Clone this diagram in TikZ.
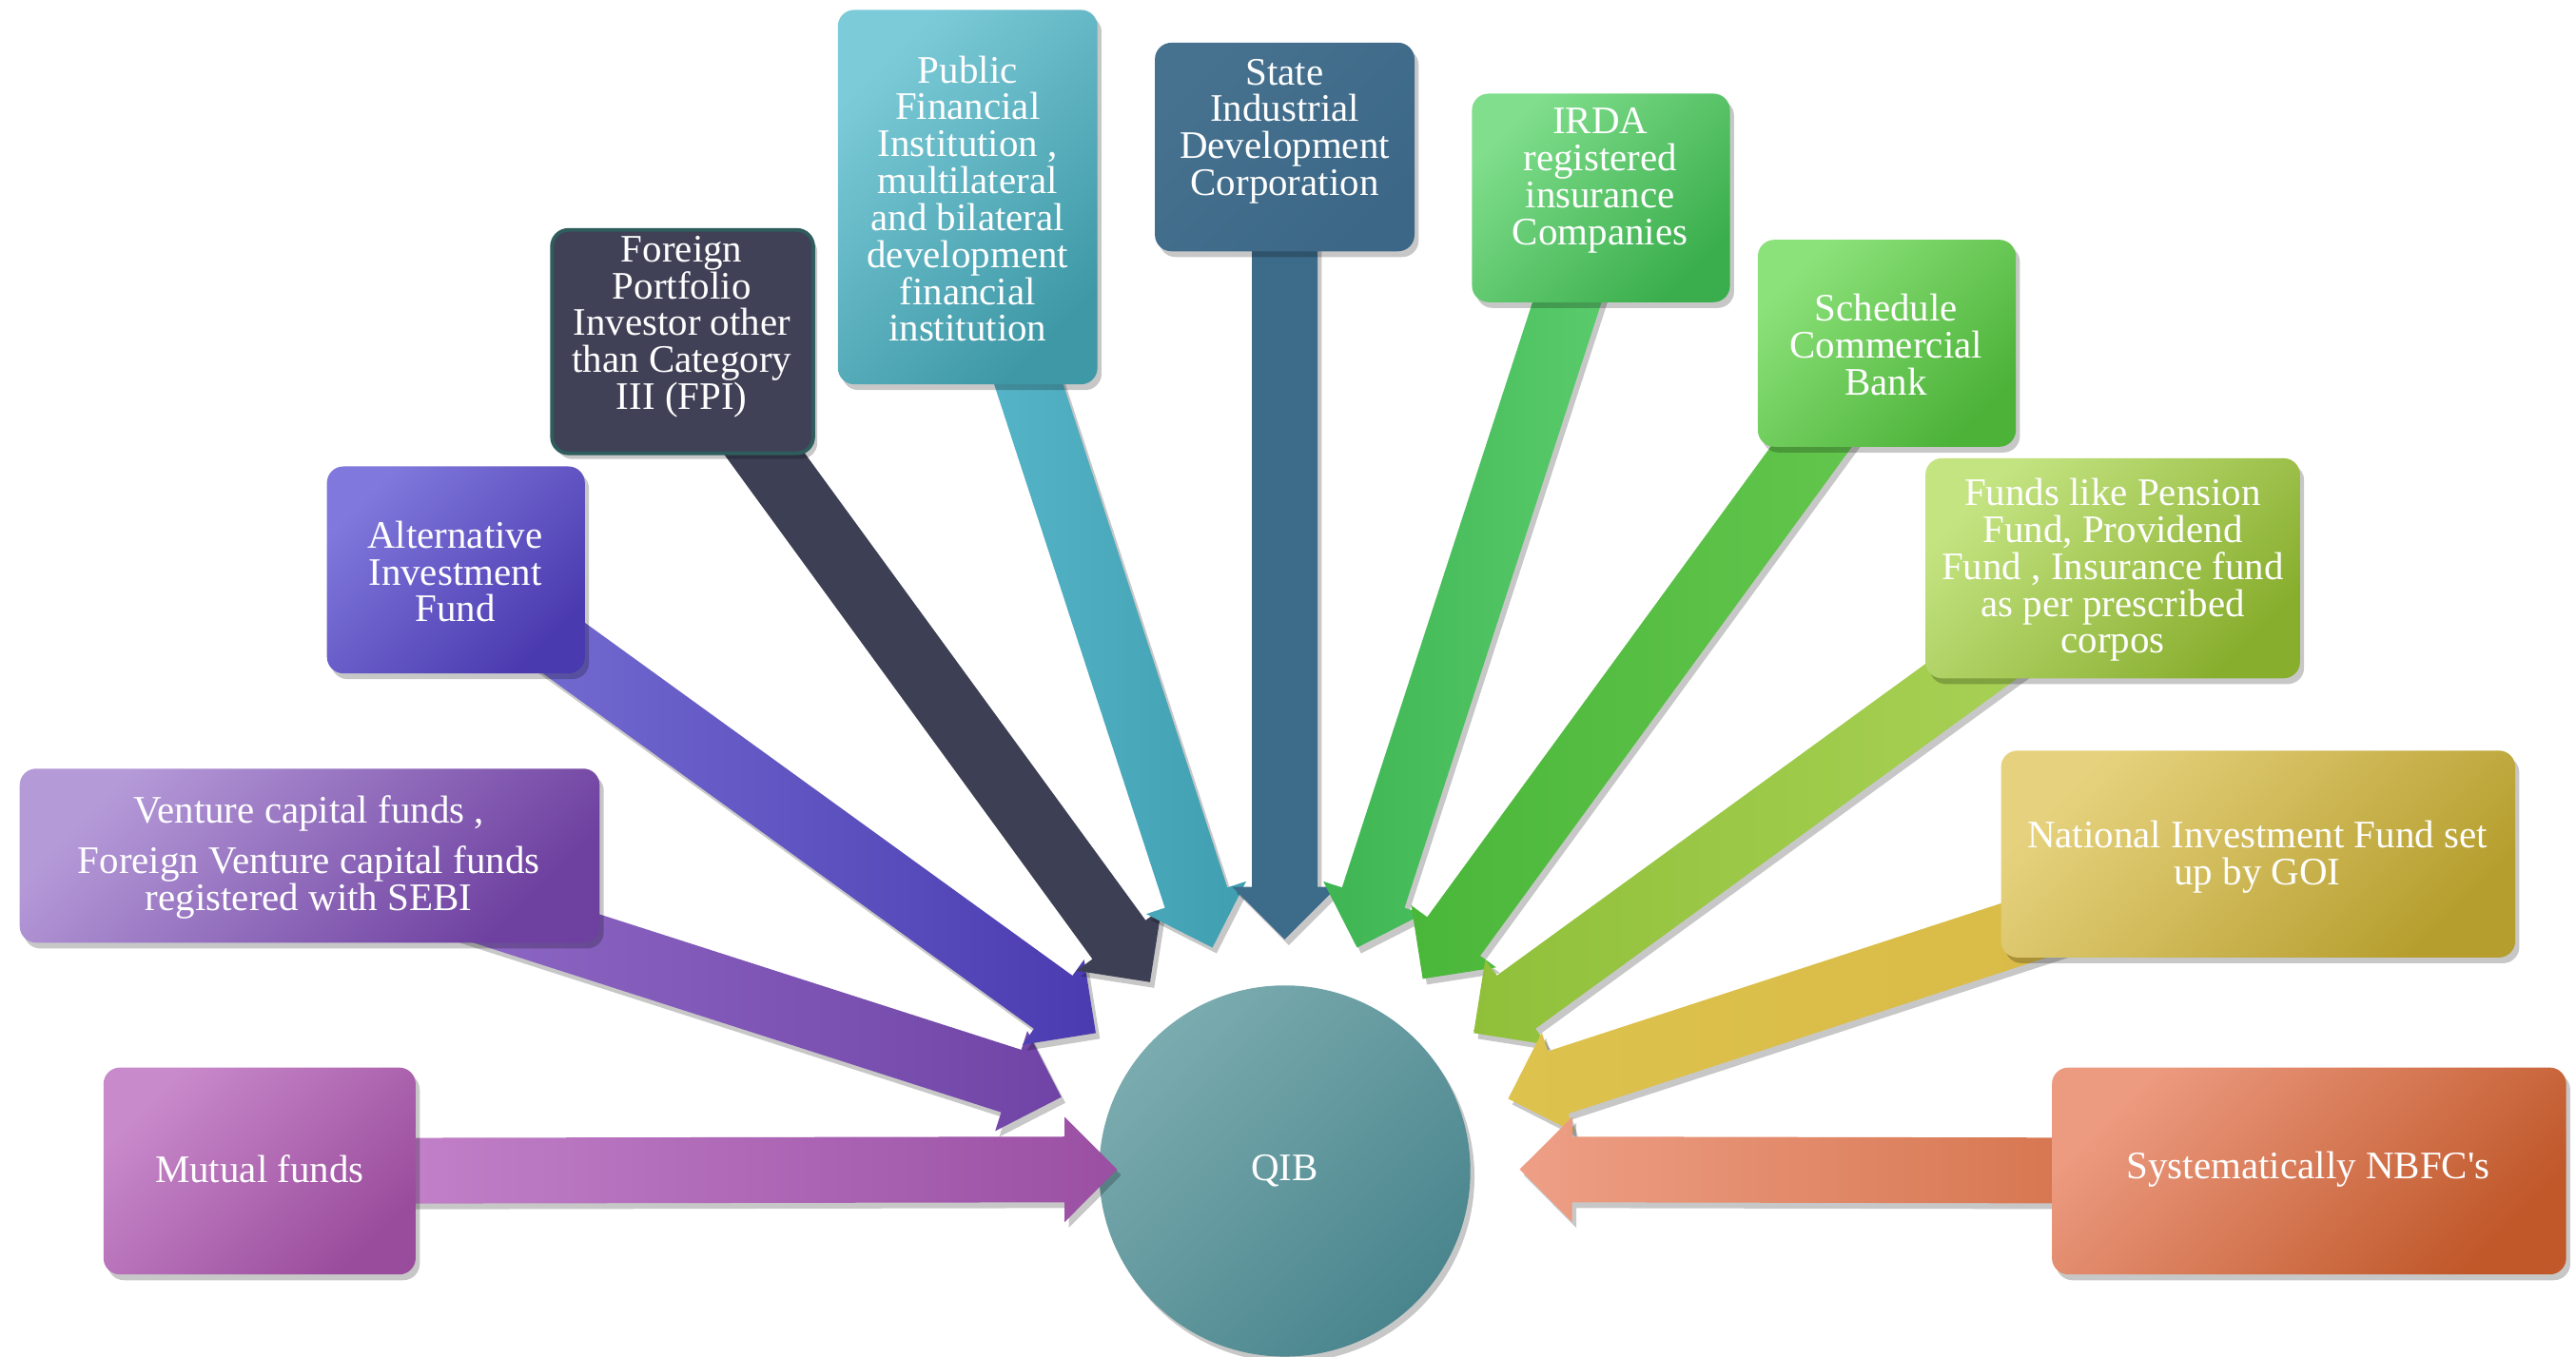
\documentclass[tikz,border=0pt]{standalone}
\usepackage{fontspec}
\setmainfont{Liberation Serif}
\usetikzlibrary{calc,shadows,fit}

\pgfdeclarelayer{bg}
\pgfdeclarelayer{mid}
\pgfsetlayers{bg,mid,main}

% palette
\definecolor{c7AABAF}{HTML}{7AABAF}
\definecolor{c4A858D}{HTML}{4A858D}
\definecolor{cC98ACB}{HTML}{C98ACB}
\definecolor{c9A4C9C}{HTML}{9A4C9C}
\definecolor{cB59AD8}{HTML}{B59AD8}
\definecolor{c6E40A0}{HTML}{6E40A0}
\definecolor{c8078DC}{HTML}{8078DC}
\definecolor{c4A3AAF}{HTML}{4A3AAF}
\definecolor{c404156}{HTML}{404156}
\definecolor{c2F5C5C}{HTML}{2F5C5C}
\definecolor{c7CCBD8}{HTML}{7CCBD8}
\definecolor{c3E98A6}{HTML}{3E98A6}
\definecolor{c46728F}{HTML}{46728F}
\definecolor{c3C6787}{HTML}{3C6787}
\definecolor{c80DE8C}{HTML}{80DE8C}
\definecolor{c3AAE4C}{HTML}{3AAE4C}
\definecolor{c8CE27A}{HTML}{8CE27A}
\definecolor{c4CB238}{HTML}{4CB238}
\definecolor{cC4E482}{HTML}{C4E482}
\definecolor{c88AE2E}{HTML}{88AE2E}
\definecolor{cE6D27E}{HTML}{E6D27E}
\definecolor{cB69E2E}{HTML}{B69E2E}
\definecolor{cEC9A80}{HTML}{EC9A80}
\definecolor{cC0582A}{HTML}{C0582A}
\definecolor{cC98AD0}{HTML}{C98AD0}
\definecolor{c9A4FA3}{HTML}{9A4FA3}
\definecolor{c9470CC}{HTML}{9470CC}
\definecolor{c7044A6}{HTML}{7044A6}
\definecolor{c7A72D6}{HTML}{7A72D6}
\definecolor{c4A3BB0}{HTML}{4A3BB0}
\definecolor{c3D4055}{HTML}{3D4055}
\definecolor{c5AB8CC}{HTML}{5AB8CC}
\definecolor{c3F9FB0}{HTML}{3F9FB0}
\definecolor{c3D6B8A}{HTML}{3D6B8A}
\definecolor{c3EB552}{HTML}{3EB552}
\definecolor{c5CCD6E}{HTML}{5CCD6E}
\definecolor{c4AB73A}{HTML}{4AB73A}
\definecolor{c66C74F}{HTML}{66C74F}
\definecolor{c90C03A}{HTML}{90C03A}
\definecolor{cACD45A}{HTML}{ACD45A}
\definecolor{cDDC24E}{HTML}{DDC24E}
\definecolor{cD8B844}{HTML}{D8B844}
\definecolor{cEE9F86}{HTML}{EE9F86}
\definecolor{cCC6438}{HTML}{CC6438}

\tikzset{
  softshadow/.style={drop shadow={shadow xshift=0.5mm, shadow yshift=-0.7mm, opacity=0.22, fill=black}},
  card/.style={rectangle, rounded corners=2mm, inner sep=0pt, draw=none, softshadow},
  cardshade/.style 2 args={left color=#1, right color=#2, shading angle=45},
  boxtext/.style={text=white, align=center, inner sep=0pt,
    font=\fontsize{13.5}{12.8}\selectfont},
  arrowbody/.style={draw=none, softshadow},
}

% block arrow from the centre of node #1 to the point #2, shaded #3 -> #4
\newcommand\blockarrow[4]{%
  \path[arrowbody, left color=#3, right color=#4]
    let \p1=(#1), \p2=(#2), \n1={atan2(\y2-\y1,\x2-\x1)} in
    ($(\p1)+(\n1+90:4mm)$)
    -- ($(\p2)+(\n1+180:6.4mm)+(\n1+90:4mm)$)
    -- ($(\p2)+(\n1+180:6.4mm)+(\n1+90:6.4mm)$)
    -- (\p2)
    -- ($(\p2)+(\n1+180:6.4mm)+(\n1-90:6.4mm)$)
    -- ($(\p2)+(\n1+180:6.4mm)+(\n1-90:4mm)$)
    -- ($(\p1)+(\n1-90:4mm)$) -- cycle;
}

\begin{document}
\begin{tikzpicture}[x=0.2mm, y=-0.2mm]
\useasboundingbox (0,0) rectangle (1568,826);

% central circle
\begin{pgfonlayer}{bg}
\node[circle, minimum size=45.2mm, inner sep=0pt, softshadow,
      cardshade={c7AABAF}{c4A858D}, text=white, font=\fontsize{13.5}{12.8}\selectfont]
      (qib) at (782,713) {QIB};
\end{pgfonlayer}

% source boxes
\node[card, fit={(63,650) (253,776)}, cardshade={cC98ACB}{c9A4C9C}] (mutual) {};
\node[boxtext] (mutualtxt) at (158,712) {Mutual funds};

\node[card, fit={(12,468) (365,574)}, cardshade={cB59AD8}{c6E40A0}] (venture) {};
\node[boxtext] (venturetxt) at (188,522) {Venture capital funds ,\\[1.6mm]Foreign Venture capital funds\\registered with SEBI};

\node[card, fit={(199,284) (356,410)}, cardshade={c8078DC}{c4A3AAF}] (altinv) {};
\node[boxtext] (altinvtxt) at (277,348) {Alternative\\Investment\\Fund};

\node[card, fit={(336,140) (495,276)}, fill=c404156, draw=c2F5C5C, line width=0.45mm] (fpi) {};
\node[boxtext] (fpitxt) at (415,199) {Foreign\\Portfolio\\Investor other\\than Category\\III (FPI)};

\node[card, fit={(510,6) (668,234)}, cardshade={c7CCBD8}{c3E98A6}] (pfi) {};
\node[boxtext] (pfitxt) at (589,121) {Public\\Financial\\Institution ,\\multilateral\\and bilateral\\development\\financial\\institution};

\node[card, fit={(703,26) (861,153)}, cardshade={c46728F}{c3C6787}] (sidc) {};
\node[boxtext] (sidctxt) at (782,80) {State\\Industrial\\Development\\Corporation};

\node[card, fit={(896,57) (1053,184)}, cardshade={c80DE8C}{c3AAE4C}] (irda) {};
\node[boxtext] (irdatxt) at (974,110) {IRDA\\registered\\insurance\\Companies};

\node[card, fit={(1070,146) (1227,272)}, cardshade={c8CE27A}{c4CB238}] (scb) {};
\node[boxtext] (scbtxt) at (1148,210) {Schedule\\Commercial\\Bank};

\node[card, fit={(1172,279) (1400,413)}, cardshade={cC4E482}{c88AE2E}] (pension) {};
\node[boxtext] (pensiontxt) at (1286,347) {Funds like Pension\\Fund, Providend\\Fund , Insurance fund\\as per prescribed\\corpos};

\node[card, fit={(1218,457) (1531,583)}, cardshade={cE6D27E}{cB69E2E}] (nif) {};
\node[boxtext] (niftxt) at (1374,522) {National Investment Fund set\\up by GOI};

\node[card, fit={(1249,650) (1562,776)}, cardshade={cEC9A80}{cC0582A}] (nbfc) {};
\node[boxtext] (nbfctxt) at (1405,712) {Systematically NBFC\textquotesingle s};

% arrow tips around the circle
\coordinate (tMutual)  at (680,712);
\coordinate (tVenture) at (646,668);
\coordinate (tAlt)     at (667,629);
\coordinate (tFpi)     at (700,598);
\coordinate (tPfi)     at (738,577);
\coordinate (tSidc)    at (782,572);
\coordinate (tIrda)    at (826,577);
\coordinate (tScb)     at (866,596);
\coordinate (tPension) at (897,629);
\coordinate (tNif)     at (918,669);
\coordinate (tNbfc)    at (925,712);

\begin{pgfonlayer}{mid}
\blockarrow{mutual}{tMutual}{cC98AD0}{c9A4FA3}
\blockarrow{venture}{tVenture}{c9470CC}{c7044A6}
\blockarrow{altinv}{tAlt}{c7A72D6}{c4A3BB0}
\blockarrow{fpi}{tFpi}{c3D4055}{c3D4055}
\blockarrow{pfi}{tPfi}{c5AB8CC}{c3F9FB0}
\blockarrow{sidc}{tSidc}{c3D6B8A}{c3D6B8A}
\blockarrow{irda}{tIrda}{c3EB552}{c5CCD6E}
\blockarrow{scb}{tScb}{c4AB73A}{c66C74F}
\blockarrow{pension}{tPension}{c90C03A}{cACD45A}
\blockarrow{nif}{tNif}{cDDC24E}{cD8B844}
\blockarrow{nbfc}{tNbfc}{cEE9F86}{cCC6438}
\end{pgfonlayer}
\end{tikzpicture}
\end{document}
